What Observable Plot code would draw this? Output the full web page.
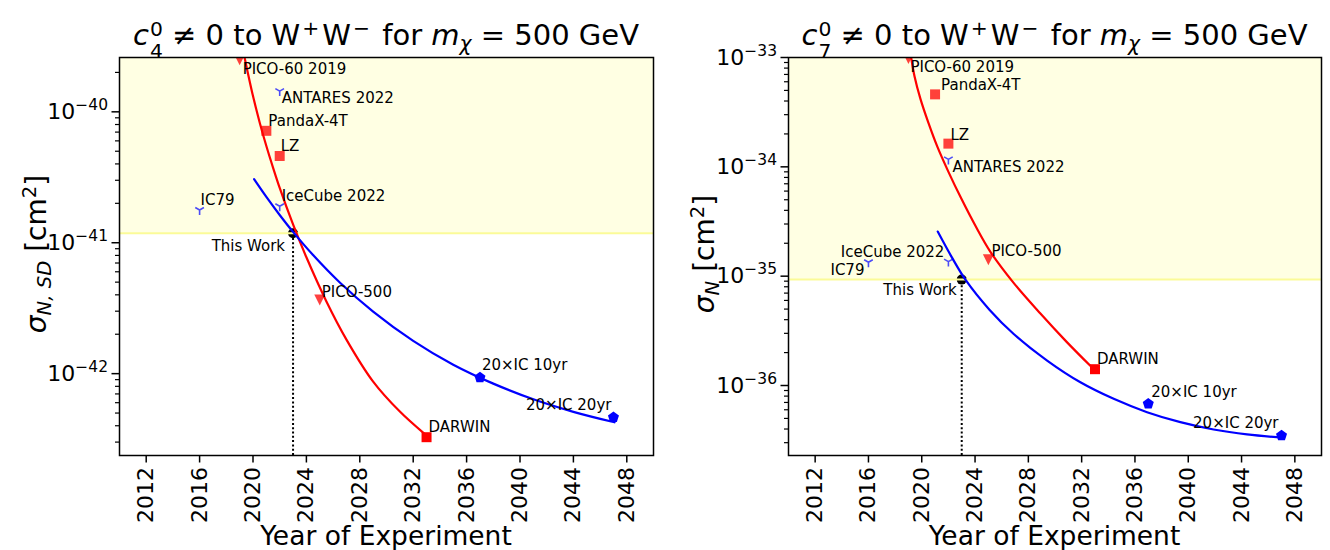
<!DOCTYPE html>
<html><head><meta charset="utf-8">
<script src="https://cdn.jsdelivr.net/npm/d3@7"></script>
<script src="https://cdn.jsdelivr.net/npm/@observablehq/plot@0.6"></script>
<style>
body{margin:0;width:1330px;height:550px;overflow:hidden;background:#fff;font-family:"DejaVu Sans",sans-serif;color:#000;}
.panel{position:absolute;top:0;width:665px;height:550px;}
.plot{position:absolute;left:0;top:50px;}
.title{position:absolute;top:18px;font-size:29px;line-height:1;white-space:nowrap;transform:translateX(-50%);}
.xlabel{position:absolute;top:523px;font-size:26.5px;line-height:1;white-space:nowrap;transform:translateX(-50%);}
.ylabel{position:absolute;font-size:28px;line-height:1;white-space:nowrap;transform:translate(-50%,-50%) rotate(-90deg);}
sup{font-size:0.7em;vertical-align:0.5em;line-height:0;}
sub{font-size:0.7em;vertical-align:-0.28em;line-height:0;}
.title sup{margin:0 3px 0 2px;}
.ss{display:inline-flex;flex-direction:column;font-size:0.7em;line-height:1.1;vertical-align:0.45em;margin-left:1px;}
</style></head><body>
<div id="p1" class="panel" style="left:0"></div>
<div id="p2" class="panel" style="left:665px"></div>
<script>
// ---------------- data ----------------
const xTicks = [2012, 2016, 2020, 2024, 2028, 2032, 2036, 2040, 2044, 2048];

// Left panel: c4
const c4Labels = ["PICO-60 2019", "ANTARES 2022", "PandaX-4T", "LZ", "IceCube 2022", "IC79", "This Work", "PICO-500", "DARWIN", "20×IC 10yr", "20×IC 20yr"];
const c4Years  = [2019, 2022, 2021, 2022, 2022, 2016, 2023, 2025, 2033, 2037, 2047];
const c4Sigma  = [2.5e-40, 1.44e-40, 7.16e-41, 4.6e-41, 1.9e-41, 1.78e-41, 1.18e-41, 3.66e-42, 3.27e-43, 9.33e-43, 4.64e-43];
const c4Kind   = ["bubble", "neutrino", "xenon", "xenon", "neutrino", "neutrino", "this", "bubble-future", "xenon-future", "neutrino-future", "neutrino-future"];
const c4RedYears  = [2019.38, 2020.0, 2020.5, 2021.0, 2021.5, 2022.0, 2023.0, 2024.0, 2025.5, 2027.0, 2029.0, 2031.0, 2032.83];
const c4RedSigma  = [2.57e-40, 1.32e-40, 8.30e-41, 5.48e-41, 3.75e-41, 2.62e-41, 1.38e-41, 7.74e-42, 3.56e-42, 1.82e-42, 8.69e-43, 5.13e-43, 3.48e-43];
const c4BlueYears = [2020.08, 2021.0, 2022.0, 2023.0, 2024.5, 2026.5, 2029.0, 2032.0, 2035.0, 2038.0, 2041.0, 2044.0, 2047.08];
const c4BlueSigma = [3.06e-41, 2.24e-41, 1.63e-41, 1.21e-41, 8.05e-42, 4.97e-42, 2.98e-42, 1.78e-42, 1.17e-42, 8.39e-43, 6.37e-43, 5.11e-43, 4.25e-43];
const c4YTicks = [1e-42, 1e-41, 1e-40];
const c4YDomain = [2.37e-43, 2.6e-40];

// Right panel: c7
const c7Labels = ["PICO-60 2019", "PandaX-4T", "LZ", "ANTARES 2022", "IceCube 2022", "IC79", "PICO-500", "This Work", "DARWIN", "20×IC 10yr", "20×IC 20yr"];
const c7Years  = [2019, 2021, 2022, 2022, 2022, 2016, 2025, 2023, 2033, 2037, 2047];
const c7Sigma  = [9.8e-34, 4.6e-34, 1.63e-34, 1.17e-34, 1.36e-35, 1.34e-35, 1.41e-35, 9.3e-36, 1.41e-36, 6.8e-37, 3.48e-37];
const c7Kind   = ["bubble", "xenon", "xenon", "neutrino", "neutrino", "neutrino", "bubble-future", "this", "xenon-future", "neutrino-future", "neutrino-future"];
const c7RedYears  = [2019.205, 2019.452, 2019.902, 2020.502, 2021.177, 2022.003, 2022.978, 2024.028, 2025.154, 2026.879, 2028.905, 2030.855, 2032.708];
const c7RedSigma  = [1.0e-33, 6.78e-34, 4.18e-34, 2.52e-34, 1.52e-34, 9.0e-35, 5.1e-35, 2.89e-35, 1.67e-35, 8.73e-36, 4.55e-36, 2.52e-36, 1.49e-36];
const c7BlueYears = [2021.2, 2022.228, 2023.278, 2025.079, 2026.902, 2029.408, 2031.906, 2034.404, 2036.909, 2039.407, 2041.906, 2044.411, 2047.157];
const c7BlueSigma = [2.56e-35, 1.51e-35, 9.29e-36, 4.94e-36, 2.96e-36, 1.69e-36, 1.07e-36, 7.55e-37, 5.70e-37, 4.62e-37, 3.96e-37, 3.57e-37, 3.33e-37];
const c7YTicks = [1e-36, 1e-35, 1e-34, 1e-33];
const c7YDomain = [2.29e-37, 1e-33];

// ---------------- styles ----------------
const rad = s => Math.sqrt(s / Math.PI);
const symTriDown = {draw(c, s) {const r = rad(s); c.moveTo(0, r); c.lineTo(-r, -r); c.lineTo(r, -r); c.closePath();}};
const symSquare = {draw(c, s) {const r = rad(s); c.rect(-r, -r, 2 * r, 2 * r);}};
const symPent = {draw(c, s) {const r = rad(s); for (let k = 0; k < 5; k++) {const a = -Math.PI / 2 + k * 2 * Math.PI / 5; k ? c.lineTo(r * Math.cos(a), r * Math.sin(a)) : c.moveTo(r * Math.cos(a), r * Math.sin(a));} c.closePath();}};
const symY = {draw(c, s) {const r = rad(s); c.moveTo(0, 0); c.lineTo(0, r); c.moveTo(0, 0); c.lineTo(-0.866 * r, -0.5 * r); c.moveTo(0, 0); c.lineTo(0.866 * r, -0.5 * r);}};
const symCircle = {draw(c, s) {const r = rad(s); c.moveTo(r, 0); c.arc(0, 0, r, 0, 2 * Math.PI);}};

const kindStyle = {
  "bubble":          {symbol: symTriDown, r: 5.5, fill: "red", fillOpacity: 0.75, stroke: "none"},
  "bubble-future":   {symbol: symTriDown, r: 5.5, fill: "red", fillOpacity: 0.75, stroke: "none"},
  "xenon":           {symbol: symSquare, r: 5, fill: "red", fillOpacity: 0.75, stroke: "none"},
  "xenon-future":    {symbol: symSquare, r: 5, fill: "red", fillOpacity: 1, stroke: "none"},
  "neutrino":        {symbol: symY, r: 5, fill: "none", stroke: "blue", strokeOpacity: 0.7, strokeWidth: 1.6},
  "neutrino-future": {symbol: symPent, r: 5.8, fill: "blue", stroke: "none"},
  "this":            {symbol: symCircle, r: 5, fill: "black", stroke: "none"}
};

const c4LabelPos = {"PICO-60 2019": ["start", 3, 9], "ANTARES 2022": ["start", 2, 7], "PandaX-4T": ["start", 2, -10], "LZ": ["start", 1, -10], "IceCube 2022": ["start", 2, -10], "IC79": ["start", 1, -10], "This Work": ["end", -8, 13], "PICO-500": ["start", 2, -8], "DARWIN": ["start", 2, -10], "20×IC 10yr": ["start", 2, -12], "20×IC 20yr": ["end", -2, -12]};
const c7LabelPos = {"PICO-60 2019": ["start", 2, 9], "PandaX-4T": ["start", 6, -9], "LZ": ["start", 2, -8], "ANTARES 2022": ["start", 4, 8], "IceCube 2022": ["end", -4, -9], "IC79": ["end", -4, 8], "PICO-500": ["start", 3, -9], "This Work": ["end", -5, 11], "DARWIN": ["start", 2, -10], "20×IC 10yr": ["start", 3, -12], "20×IC 20yr": ["end", -3, -12]};

function makePanel(el, cfg) {
  const pts = cfg.labels.map((name, i) => ({name, year: cfg.years[i], sigma: cfg.sigma[i], kind: cfg.kind[i]}));
  const red = cfg.redYears.map((x, i) => ({x, y: cfg.redSigma[i]}));
  const blue = cfg.blueYears.map((x, i) => ({x, y: cfg.blueSigma[i]}));
  const tw = pts.find(d => d.kind === "this");
  const minors = d3.scaleLog().domain(cfg.yDomain).ticks().filter(v => Math.abs(Math.log10(v) - Math.round(Math.log10(v))) > 1e-6);

  const dotMark = kind => Plot.dot(pts.filter(d => d.kind === kind), {x: "year", y: "sigma", clip: true, ...kindStyle[kind]});

  const marks = [
    Plot.rect([tw], {y1: "sigma", y2: () => cfg.yDomain[1], fill: "#ffffe3"}),
    Plot.ruleX([tw], {x: "year", y1: () => cfg.yDomain[0], y2: "sigma", stroke: "black", strokeWidth: 2, strokeDasharray: "2,2.3"}),
    dotMark("this"),
    Plot.ruleY([tw], {y: "sigma", stroke: "#fbfb98", strokeWidth: 2}),
    Plot.line(red, {x: "x", y: "y", curve: "catmull-rom", stroke: "red", strokeWidth: 2.2, clip: true}),
    Plot.line(blue, {x: "x", y: "y", curve: "catmull-rom", stroke: "blue", strokeWidth: 2.2, clip: true}),
    ...["bubble", "bubble-future", "xenon", "xenon-future", "neutrino", "neutrino-future"].map(dotMark),
    ...pts.map(d => {
      const [anchor, dx, dy] = cfg.labelPos[d.name];
      return Plot.text([d], {x: "year", y: "sigma", text: "name", textAnchor: anchor, dx, dy, fontSize: 15, fill: "black"});
    }),
    Plot.axisX({ticks: xTicks, tickFormat: d => String(d), tickRotate: -90, tickSize: 7.5, tickPadding: 4, fontSize: 22, strokeWidth: 1.5, label: null}),
    Plot.axisY({ticks: cfg.yTicks, tickFormat: d => "10|−" + (-Math.round(Math.log10(d))), tickSize: 7.5, tickPadding: 4, fontSize: 22, strokeWidth: 1.5, label: null}),
    Plot.axisY({ticks: minors, tickFormat: () => "", tickSize: 4, strokeWidth: 1.2, label: null}),
    Plot.frame({stroke: "black", strokeWidth: 1.5})
  ];

  const svg = Plot.plot({
    width: 665, height: 500,
    marginLeft: cfg.marginLeft, marginRight: cfg.marginRight, marginTop: 7, marginBottom: 95,
    style: {fontFamily: "DejaVu Sans", fontSize: "22px", color: "black", background: "transparent", overflow: "visible"},
    x: {domain: [2010, 2050]},
    y: {type: "log", domain: cfg.yDomain},
    marks
  });
  svg.classList.add("plot");
  d3.select(svg).selectAll('g[aria-label="y-axis tick label"] text').each(function () {
    const t = this.textContent;
    if (!t.includes("|")) return;
    const [b, e] = t.split("|");
    this.textContent = "";
    const s = d3.select(this);
    s.append("tspan").text(b);
    s.append("tspan").attr("dy", "-9").attr("font-size", "15.5").text(e);
  });
  el.appendChild(svg);

  const cx = cfg.marginLeft + (665 - cfg.marginLeft - cfg.marginRight) / 2;
  const title = document.createElement("div");
  title.className = "title"; title.style.left = cx + "px"; title.innerHTML = cfg.title;
  el.appendChild(title);
  const xl = document.createElement("div");
  xl.className = "xlabel"; xl.style.left = cx + "px"; xl.textContent = "Year of Experiment";
  el.appendChild(xl);
  const yl = document.createElement("div");
  yl.className = "ylabel"; yl.style.left = cfg.ylabelX + "px"; yl.style.top = "254px"; yl.innerHTML = cfg.ylabel;
  el.appendChild(yl);
}

makePanel(document.getElementById("p1"), {
  labels: c4Labels, years: c4Years, sigma: c4Sigma, kind: c4Kind,
  redYears: c4RedYears, redSigma: c4RedSigma, blueYears: c4BlueYears, blueSigma: c4BlueSigma,
  yTicks: c4YTicks, yDomain: c4YDomain, labelPos: c4LabelPos,
  marginLeft: 119, marginRight: 12, ylabelX: 37,
  title: '<i>c</i><span class="ss"><span>0</span><span>4</span></span> ≠ 0 to W<sup>+</sup>W<sup>−</sup> for <i>m</i><sub><i>χ</i></sub> = 500 GeV',
  ylabel: '<i>σ</i><sub><i>N, SD</i></sub> [cm<sup>2</sup>]'
});
makePanel(document.getElementById("p2"), {
  labels: c7Labels, years: c7Years, sigma: c7Sigma, kind: c7Kind,
  redYears: c7RedYears, redSigma: c7RedSigma, blueYears: c7BlueYears, blueSigma: c7BlueSigma,
  yTicks: c7YTicks, yDomain: c7YDomain, labelPos: c7LabelPos,
  marginLeft: 123, marginRight: 9, ylabelX: 40,
  title: '<i>c</i><span class="ss"><span>0</span><span>7</span></span> ≠ 0 to W<sup>+</sup>W<sup>−</sup> for <i>m</i><sub><i>χ</i></sub> = 500 GeV',
  ylabel: '<i>σ</i><sub><i>N</i></sub> [cm<sup>2</sup>]'
});
</script>
</body></html>
